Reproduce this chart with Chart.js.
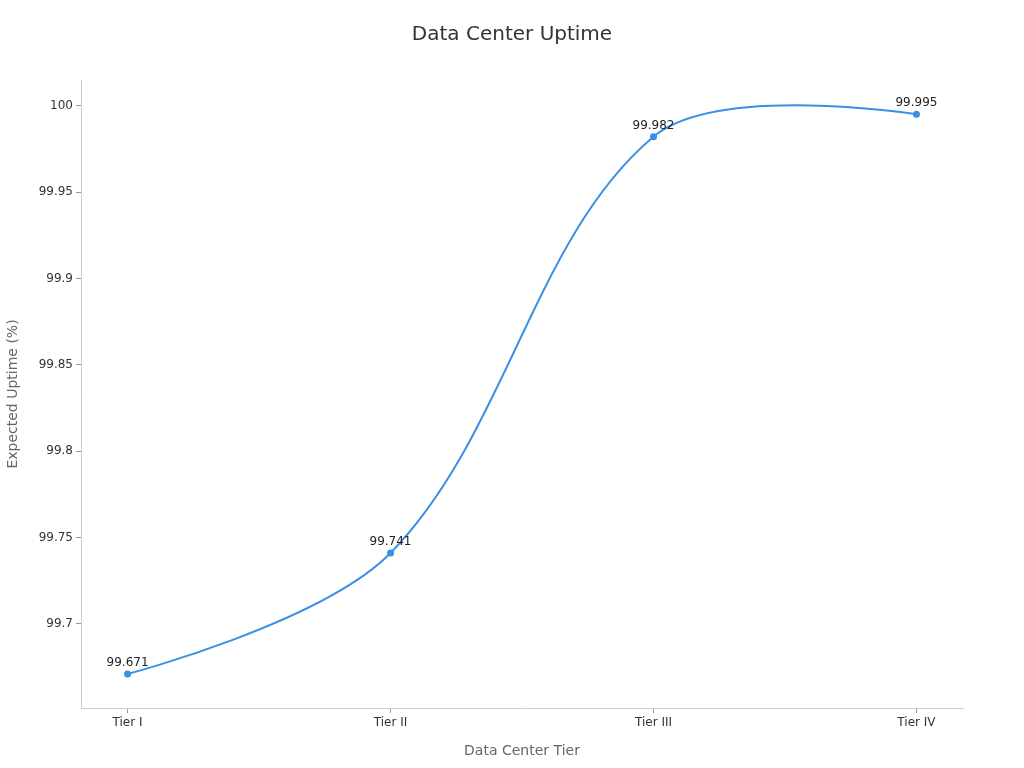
<!DOCTYPE html>
<html>
<head>
<meta charset="utf-8">
<script src="https://cdn.jsdelivr.net/npm/chart.js@4"></script>
<style>
  html, body { margin: 0; padding: 0; background: #fff; }
  #wrap { width: 1024px; height: 768px; }
</style>
</head>
<body>
<div id="wrap"><canvas id="c" width="1024" height="768"></canvas></div>
<script>
const categories = ['Tier I', 'Tier II', 'Tier III', 'Tier IV'];
const uptimeValues = [99.671, 99.741, 99.982, 99.995];
const yTickValues = [99.7, 99.75, 99.8, 99.85, 99.9, 99.95, 100];
const yTickLabels = ['99.7', '99.75', '99.8', '99.85', '99.9', '99.95', '100'];
const valueLabels = ['99.671', '99.741', '99.982', '99.995'];
const chartTitle = 'Data Center Uptime';

const FONT = "'DejaVu Sans', sans-serif";

// Title centred on the whole canvas
const titlePlugin = {
  id: 'centerTitle',
  afterDraw(chart) {
    const ctx = chart.ctx;
    ctx.save();
    ctx.font = "20px " + FONT;
    ctx.fillStyle = '#333';
    ctx.textAlign = 'center';
    ctx.textBaseline = 'middle';
    ctx.fillText(chartTitle, chart.width / 2, 35);
    ctx.restore();
  }
};

// Endpoints use themselves as control points (no pull toward neighbours)
const endpointSpline = {
  id: 'endpointSpline',
  beforeDatasetDraw(chart, args) {
    const meta = args.meta;
    if (!meta.dataset) return;
    meta.dataset.updateControlPoints(chart.chartArea, meta.iScale.axis);
    const pts = meta.data;
    if (!pts.length) return;
    const first = pts[0], last = pts[pts.length - 1];
    first.cp1x = first.x; first.cp1y = first.y;
    first.cp2x = first.x; first.cp2y = first.y;
    last.cp1x = last.x; last.cp1y = last.y;
    last.cp2x = last.x; last.cp2y = last.y;
    meta.dataset._path = undefined;
  }
};

const dataLabelPlugin = {
  id: 'dataLabels',
  afterDatasetsDraw(chart) {
    const ctx = chart.ctx;
    const meta = chart.getDatasetMeta(0);
    ctx.save();
    ctx.font = "12px " + FONT;
    ctx.fillStyle = '#222';
    ctx.textAlign = 'center';
    ctx.textBaseline = 'middle';
    meta.data.forEach((pt, i) => {
      ctx.fillText(valueLabels[i], pt.x, pt.y - 11);
    });
    ctx.restore();
  }
};

new Chart(document.getElementById('c'), {
  type: 'line',
  data: {
    datasets: [{
      data: uptimeValues.map((v, i) => ({ x: i, y: v })),
      borderColor: '#3a90e5',
      backgroundColor: '#3a90e5',
      borderWidth: 2,
      pointRadius: 2.5,
      pointHoverRadius: 2.5,
      tension: 0.35,
      capBezierPoints: false,
      fill: false
    }]
  },
  options: {
    responsive: false,
    animation: false,
    events: [],
    layout: { padding: { left: 0, right: 61, top: 80, bottom: 0 } },
    plugins: {
      legend: { display: false },
      tooltip: { enabled: false },
      title: { display: false }
    },
    scales: {
      x: {
        type: 'linear',
        min: -0.177,
        max: 3.177,
        afterBuildTicks(scale) { scale.ticks = categories.map((c, i) => ({ value: i })); },
        afterFit(scale) { scale.height = 60; },
        ticks: {
          color: '#333',
          font: { family: FONT, size: 12 },
          padding: 3,
          maxRotation: 0,
          autoSkip: false,
          callback: (v) => categories[v]
        },
        grid: { drawOnChartArea: false, drawTicks: true, tickLength: 5, color: '#999' },
        border: { color: '#ccc', width: 1 },
        title: {
          display: true,
          text: 'Data Center Tier',
          color: '#666',
          font: { family: FONT, size: 14 },
          padding: { top: 0, bottom: 8 }
        }
      },
      y: {
        type: 'linear',
        min: 99.6513,
        max: 100.0149,
        afterBuildTicks(scale) { scale.ticks = yTickValues.map(v => ({ value: v })); },
        afterFit(scale) { scale.width = 81; },
        ticks: {
          color: '#333',
          font: { family: FONT, size: 12 },
          padding: 3,
          autoSkip: false,
          callback: (v) => { const i = yTickValues.findIndex(t => Math.abs(t - v) < 1e-9); return i >= 0 ? yTickLabels[i] : ''; }
        },
        grid: { drawOnChartArea: false, drawTicks: true, tickLength: 5, color: '#999' },
        border: { color: '#ccc', width: 1 },
        title: {
          display: true,
          text: 'Expected Uptime (%)',
          color: '#666',
          font: { family: FONT, size: 14 },
          padding: { top: 5, bottom: 0 }
        }
      }
    }
  },
  plugins: [endpointSpline, dataLabelPlugin, titlePlugin]
});
</script>
</body>
</html>
